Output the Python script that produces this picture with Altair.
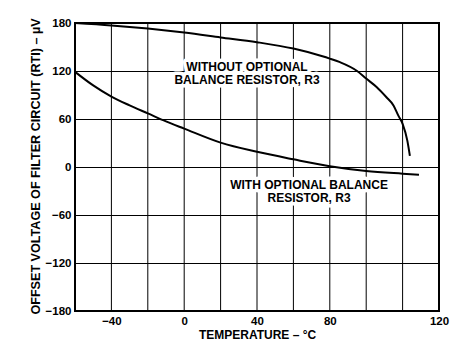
import altair as alt
import pandas as pd

# Curve: WITHOUT optional balance resistor
t_without = [-60, -40, -20, 0, 20, 40, 60, 75, 80, 85.6, 95, 100, 105.7, 111, 115, 117.6, 120, 122.6, 124]
v_without = [180, 177, 173, 168, 162, 156, 148, 139, 135.5, 131, 120, 110.5, 100, 87.5, 77, 64.6, 54, 33, 14]

# Curve: WITH optional balance resistor
t_with = [-60, -50, -40, -30, -20, -10, 0, 20, 40, 60, 80, 100, 120, 129]
v_with = [119, 102, 88, 77, 67, 57, 48, 30.5, 19, 9.6, 1, -5, -8.3, -9.6]

# Axis ticks
x_grid = [-40, -20, 0, 20, 40, 60, 80, 100, 120]
x_tick_values = [-40, 0, 40, 80, 140]
x_tick_labels = ["\u221240", "0", "40", "80", "120"]
y_ticks = [-180, -120, -60, 0, 60, 120, 180]

# Annotations
ann_text = ["WITHOUT OPTIONAL", "BALANCE RESISTOR, R3", "WITH OPTIONAL BALANCE", "RESISTOR, R3"]
ann_x = [34.5, 34.5, 68.6, 68.6]
ann_y = [125, 108.4, -22.9, -38.7]

FONT = "Liberation Sans"

df = pd.concat([
    pd.DataFrame({"t": t_without, "v": v_without, "s": "without"}),
    pd.DataFrame({"t": t_with, "v": v_with, "s": "with"}),
])
ann = pd.DataFrame({"t": ann_x, "v": ann_y, "text": ann_text})
grid_df = pd.DataFrame({"t": x_grid})

label_expr = "''"
for val, lab in reversed(list(zip(x_tick_values, x_tick_labels))):
    label_expr = f"(datum.value == {val}) ? '{lab}' : ({label_expr})"

xscale = alt.Scale(domain=[-60, 140], nice=False, zero=False)
yscale = alt.Scale(domain=[-180, 180], nice=False, zero=False)

xaxis = alt.Axis(
    values=x_tick_values, labelExpr=label_expr, title="TEMPERATURE \u2013 \u00b0C",
    grid=False, ticks=False, domain=False, labelOverlap=False, labelFlush=False,
    labelPadding=4, labelFontSize=11.5, labelFont=FONT, labelFontWeight="bold",
    labelColor="black", titleFont=FONT, titleFontSize=12, titleFontWeight="bold",
    titleColor="black", titleX=182, titleY=27.5, titleBaseline="alphabetic",
    titleAlign="center",
)
yaxis = alt.Axis(
    values=y_ticks, title="OFFSET VOLTAGE OF FILTER CIRCUIT (RTI) \u2013 \u00b5V",
    grid=True, ticks=False, domain=False, labelOverlap=False, labelFlush=False,
    labelPadding=4, labelFontSize=11.5, labelFont=FONT, labelFontWeight="bold",
    labelColor="black", titleFont=FONT, titleFontSize=12.6, titleFontWeight="bold",
    titleColor="black", titleX=-36, titleY=143, titleAngle=-90,
    titleBaseline="alphabetic", titleAlign="center",
)

X = alt.X("t:Q", scale=xscale, axis=xaxis)
Y = alt.Y("v:Q", scale=yscale, axis=yaxis)

vgrid = alt.Chart(grid_df).mark_rule(color="black", strokeWidth=1).encode(x=X)

lines = alt.Chart(df).mark_line(color="black", strokeWidth=2, interpolate="monotone").encode(
    x=X, y=Y, detail="s:N",
)

halo = alt.Chart(ann).mark_text(
    font=FONT, fontSize=12, fontWeight="bold", color="white",
    stroke="white", strokeWidth=7, strokeJoin="round", baseline="middle", align="center",
).encode(x=X, y=Y, text="text:N")

labels = alt.Chart(ann).mark_text(
    font=FONT, fontSize=12, fontWeight="bold", color="black",
    baseline="middle", align="center",
).encode(x=X, y=Y, text="text:N")

chart = alt.layer(vgrid, halo, labels, lines).properties(
    width=364, height=288,
    autosize=alt.AutoSizeParams(type="none"),
    padding={"left": 75, "top": 23, "right": 24, "bottom": 40},
    background="white",
).configure_view(
    stroke="black", strokeWidth=2
).configure_axis(
    gridColor="black", gridWidth=1, gridOpacity=1
)

chart.save("out.html", embed_options={"renderer": "svg", "actions": False})
